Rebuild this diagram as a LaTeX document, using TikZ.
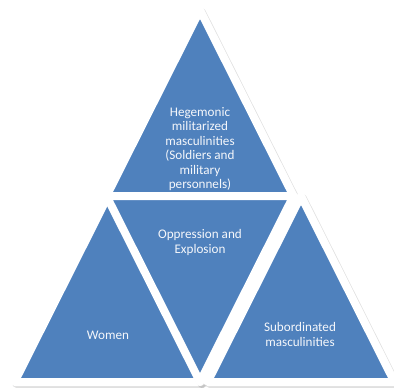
\documentclass[tikz,border=0pt]{standalone}
\usepackage{fontspec}
\setmainfont{Carlito}
\definecolor{triblue}{HTML}{4F81BD}
\begin{document}
\begin{tikzpicture}[x=1bp,y=-1bp,
  trifill/.style={fill=triblue, draw=white, line width=8bp, line join=round},
  trishadow/.style={draw=black, fill=black, line width=8bp, line join=round, opacity=0.12},
  lbl/.style={text=white!94!triblue, align=center, font=\fontsize{13.2}{14.6}\selectfont, inner sep=0pt}]
\useasboundingbox[fill=white] (0,0) rectangle (394,388);
% upright triangle about an incentre
\newcommand\uptri[2]{%
  \path[trishadow] ([shift={(1.8,2)}]#1) ++(0,-128.3) -- ++(93.5,185.9) -- ++(-187,0) -- cycle;
  \path[trifill] (#1) ++(0,-128.3) -- ++(93.5,185.9) -- ++(-187,0) -- cycle;}
\newcommand\downtri[1]{%
  \path[trishadow] ([shift={(1.8,2)}]#1) ++(0,128.3) -- ++(93.5,-185.9) -- ++(-187,0) -- cycle;
  \path[trifill] (#1) ++(0,128.3) -- ++(93.5,-185.9) -- ++(-187,0) -- cycle;}
\coordinate (ctop) at (200,138.4);
\coordinate (cleft) at (108,324.4);
\coordinate (cmid) at (200,253.6);
\coordinate (cright) at (301,324.4);
\uptri{ctop}{}
\uptri{cleft}{}
\downtri{cmid}
\uptri{cright}{}
\node[lbl] (thege) at (200,149) {Hegemonic\\militarized\\masculinities\\(Soldiers and\\military\\personnels)};
\node[lbl] (topp) at (200,242.5) {Oppression and\\Explosion};
\node[lbl] (twom) at (108,335) {Women};
\node[lbl] (tsub) at (300,334.5) {Subordinated\\masculinities};
\end{tikzpicture}
\end{document}
